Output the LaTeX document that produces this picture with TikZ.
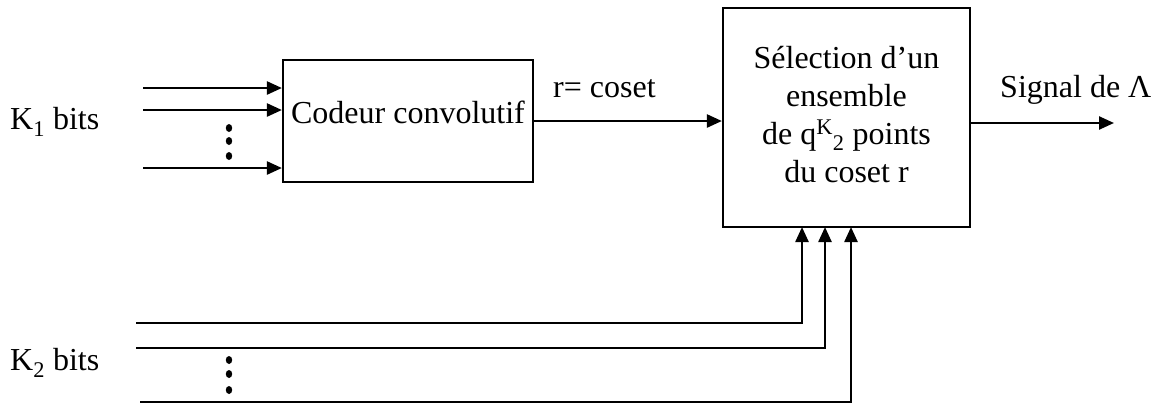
\documentclass[tikz,border=0pt]{standalone}
\usepackage{fontspec}
\setmainfont{Liberation Serif}
\usetikzlibrary{arrows.meta}
\begin{document}
\begin{tikzpicture}[x=1pt,y=-1pt,
  wire/.style={line width=2.4pt},
  arr/.style={wire,-{Triangle[length=15pt,width=13pt]}},
  blockbox/.style={draw,line width=2.2pt,inner sep=0pt},
  lbl/.style={inner sep=0pt,font=\fontsize{32}{38}\selectfont}]
\useasboundingbox (0,0) rectangle (1161,405);

% blocks
\node[blockbox,minimum width=250pt,minimum height=122pt] (enc) at (408,121) {};
\node[lbl,anchor=base] (enctext) at (408,123) {Codeur convolutif};
\node[blockbox,minimum width=247pt,minimum height=219pt] (sel) at (846.5,117.5) {};
% the base anchor of a multi-line node sits on its last line
\node[lbl,align=center,anchor=base] (seltext) at (846.5,182)
  {Sélection d’un\\ensemble\\de q\textsuperscript{K}\textsubscript{2} points\\du coset r};

% K1 inputs
\node[lbl,anchor=west] (k1lbl) at (10,122) {K\textsubscript{1} bits};
\coordinate (a1) at (143,88);
\coordinate (a2) at (143,110);
\coordinate (a3) at (143,168);
\foreach \c in {a1,a2,a3} \draw[arr] (\c) -- (\c -| enc.west);
\foreach \y in {128,141,156} \fill (229,\y) ellipse [x radius=3.2, y radius=4];

% coset link
\draw[arr] (enc.east) -- (enc.east -| sel.west);
\node[lbl,anchor=base west] (coset) at (553,97) {r= coset};

% output
\coordinate (outend) at (1114,123);
\draw[arr] (outend -| sel.east) -- (outend);
\node[lbl,anchor=base west] (sig) at (1000,97) {Signal de Λ};

% K2 inputs
\node[lbl,anchor=west] (k2lbl) at (10,363) {K\textsubscript{2} bits};
\coordinate (b1) at (136,323);
\coordinate (b2) at (136,348);
\coordinate (b3) at (140,402);
\coordinate (u1) at (802,227);
\coordinate (u2) at (825,227);
\coordinate (u3) at (851,227);
\draw[arr] (b1) -| (u1);
\draw[arr] (b2) -| (u2);
\draw[arr] (b3) -| (u3);
\foreach \y in {360,374,390} \fill (229,\y) ellipse [x radius=3.2, y radius=4];
\end{tikzpicture}
\end{document}
